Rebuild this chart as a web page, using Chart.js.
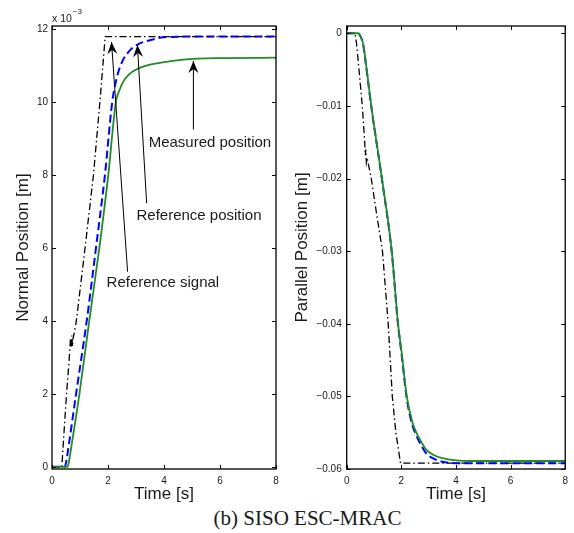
<!DOCTYPE html>
<html>
<head>
<meta charset="utf-8">
<script src="https://cdn.jsdelivr.net/npm/chart.js@4.4.1/dist/chart.umd.min.js"></script>
<style>
  body { margin: 0; background: #fff; }
  #wrap { position: relative; width: 574px; height: 533px; }
  canvas { position: absolute; top: 0; }
  #left { left: 0; }
  #right { left: 290px; }
  #caption {
    position: absolute; left: 41px; width: 533px; top: 508px;
    text-align: center; font: 21px "Liberation Serif", "Times New Roman", serif;
    line-height: 21px; color: #1a1a1a; white-space: pre;
  }
</style>
</head>
<body>
<div id="wrap">
  <canvas id="left" width="290" height="505"></canvas>
  <canvas id="right" width="284" height="505"></canvas>
  <div id="caption">(b) SISO ESC-MRAC</div>
</div>
<script>
// time ticks shared by both panels
const timeTicks = [0, 2, 4, 6, 8];

// left panel: normal position (x 10^-3 m)
const normalTicks = [0, 2, 4, 6, 8, 10, 12];
const tRefSignalN = [0, 0.35, 0.45, 0.52, 0.6, 0.66, 0.69, 0.71, 0.73, 0.75, 0.8, 0.87, 1.18, 1.48, 1.71, 1.9, 8];
const refSignalN  = [0, 0, 1.2, 2.0, 2.8, 3.5, 3.3, 3.6, 3.3, 3.5, 3.7, 4.0, 6.0, 8.0, 10.0, 11.8, 11.8];
const tRefPosN = [0, 0.46, 0.52, 0.6, 0.86, 1.24, 1.57, 1.89, 2.15, 2.31, 2.5, 2.79, 3.1, 3.5, 3.98, 5, 8];
const refPosN  = [0, 0, 0.2, 0.6, 2.0, 4.0, 6.0, 8.0, 10.0, 10.66, 11.1, 11.43, 11.6, 11.7, 11.78, 11.8, 11.8];
const tMeasN = [0, 0.55, 0.6, 0.68, 0.98, 1.33, 1.69, 2.01, 2.28, 2.42, 2.55, 2.75, 2.9, 3.2, 3.5, 3.86, 4.69, 6, 8];
const measN  = [0, 0, 0.12, 0.5, 2.0, 4.0, 6.0, 8.0, 10.0, 10.35, 10.57, 10.76, 10.85, 10.96, 11.03, 11.08, 11.17, 11.21, 11.22];

// right panel: parallel position (m)
const parallelTicks = [0, -0.01, -0.02, -0.03, -0.04, -0.05, -0.06];
const parallelLabels = ['0', '\u22120.01', '\u22120.02', '\u22120.03', '\u22120.04', '\u22120.05', '\u22120.06'];
const tRefSignalP = [0, 0.3, 0.36, 0.45, 0.57, 0.66, 0.68, 0.7, 0.72, 0.75, 0.9, 1.1, 1.31, 1.52, 1.67, 1.8, 1.97, 8];
const refSignalP  = [0, 0, -0.0014, -0.005, -0.01, -0.015, -0.0168, -0.016, -0.0178, -0.0172, -0.02, -0.025, -0.03, -0.04, -0.05, -0.055, -0.0592, -0.0592];
const tPosP = [0, 0.42, 0.5, 0.6, 0.7, 0.9, 1.29, 1.65, 1.88, 2.0, 2.2, 2.4, 2.55, 2.75, 2.9, 3.2, 3.5, 4.0, 4.5, 8];
const refPosP = [0, 0, -0.0004, -0.0015, -0.0042, -0.0101, -0.0201, -0.0302, -0.0402, -0.0439, -0.0503, -0.0539, -0.0554, -0.0569, -0.0578, -0.0586, -0.059, -0.0592, -0.0592, -0.0592];
const measP   = [0, 0, -0.0004, -0.0014, -0.004, -0.01, -0.02, -0.03, -0.04, -0.0436, -0.05, -0.0535, -0.055, -0.0564, -0.0573, -0.0581, -0.0585, -0.0588, -0.0589, -0.0589];

// arrow annotations on the left panel (data coordinates)
const noteLabels = ['Reference signal', 'Reference position', 'Measured position'];
const noteTips   = [[2.125, 11.65], [3.05, 11.57], [5.05, 11.13]];
const noteTails  = [[2.70, 5.35], [3.38, 7.23], [5.05, 9.25]];
const noteTexts  = [[3.96, 5.05], [5.25, 6.88], [5.64, 8.88]];

const FONT = '"Liberation Sans", Arial, Helvetica, sans-serif';
const TXT = '#1a1a1a';

const zip = (xs, ys) => xs.map((x, i) => ({x: x, y: ys[i]}));

// MATLAB-like box with inward ticks on all four sides
const boxPlugin = {
    id: 'matlabBox',
    afterDatasetsDraw(chart) {
        const {ctx, chartArea: a, scales: {x, y}} = chart;
        ctx.save();
        ctx.strokeStyle = '#000';
        ctx.lineWidth = 1;
        ctx.beginPath();
        for (const t of x.ticks) {
            const px = Math.round(x.getPixelForValue(t.value)) + 0.5;
            ctx.moveTo(px, a.bottom); ctx.lineTo(px, a.bottom - 4);
            ctx.moveTo(px, a.top); ctx.lineTo(px, a.top + 4);
        }
        for (const t of y.ticks) {
            const py = Math.round(y.getPixelForValue(t.value)) + 0.5;
            ctx.moveTo(a.left, py); ctx.lineTo(a.left + 4, py);
            ctx.moveTo(a.right, py); ctx.lineTo(a.right - 4, py);
        }
        ctx.stroke();
        ctx.lineWidth = 1.3;
        ctx.strokeRect(a.left, a.top, a.right - a.left, a.bottom - a.top);
        ctx.restore();
    }
};

// exponent marker and arrows with labels for the left panel
const notesPlugin = {
    id: 'notes',
    afterDraw(chart) {
        const {ctx, chartArea: a, scales: {x, y}} = chart;
        ctx.save();
        ctx.fillStyle = TXT;
        ctx.textBaseline = 'alphabetic';
        ctx.font = '10.5px ' + FONT;
        ctx.fillText('x 10', a.left, a.top - 4);
        const w = ctx.measureText('x 10').width;
        ctx.font = '8px ' + FONT;
        ctx.fillText('\u22123', a.left + w + 1, a.top - 12);

        noteLabels.forEach((label, i) => {
            const tx = x.getPixelForValue(noteTips[i][0]);
            const ty = y.getPixelForValue(noteTips[i][1]);
            const sx = x.getPixelForValue(noteTails[i][0]);
            const sy = y.getPixelForValue(noteTails[i][1]);
            ctx.strokeStyle = '#000';
            ctx.lineWidth = 1;
            ctx.beginPath();
            ctx.moveTo(sx, sy);
            ctx.lineTo(tx, ty);
            ctx.stroke();
            // arrow head
            const ang = Math.atan2(ty - sy, tx - sx);
            const len = 12, half = 5;
            const bx = tx - len * Math.cos(ang), by = ty - len * Math.sin(ang);
            const nx = tx - 8 * Math.cos(ang), ny = ty - 8 * Math.sin(ang);
            ctx.fillStyle = '#000';
            ctx.beginPath();
            ctx.moveTo(tx, ty);
            ctx.lineTo(bx + half * Math.sin(ang), by - half * Math.cos(ang));
            ctx.lineTo(nx, ny);
            ctx.lineTo(bx - half * Math.sin(ang), by + half * Math.cos(ang));
            ctx.closePath();
            ctx.fill();
            // label
            ctx.fillStyle = TXT;
            ctx.font = '15px ' + FONT;
            ctx.textAlign = 'center';
            ctx.textBaseline = 'middle';
            ctx.fillText(label, x.getPixelForValue(noteTexts[i][0]), y.getPixelForValue(noteTexts[i][1]));
        });
        ctx.restore();
    }
};

function seriesSets(black, blue, green) {
    return [
        {data: green, borderColor: '#228B22', borderWidth: 1.8, order: 0, cubicInterpolationMode: 'monotone'},
        {data: blue, borderColor: '#0000FF', borderWidth: 2, borderDash: [8, 4], order: 1, cubicInterpolationMode: 'monotone'},
        {data: black, borderColor: '#000000', borderWidth: 1.3, borderDash: [7, 3, 1.5, 3], order: 2, tension: 0}
    ];
}

function makeOptions(o) {
    return {
        responsive: false,
        animation: false,
        parsing: false,
        elements: {point: {radius: 0}},
        layout: {padding: {left: 0, right: o.padRight, top: 26, bottom: 0}},
        plugins: {legend: {display: false}, tooltip: {enabled: false}},
        scales: {
            x: {
                type: 'linear', min: 0, max: 8,
                afterBuildTicks: s => { s.ticks = timeTicks.map(v => ({value: v})); },
                afterFit: s => { s.height = 36; },
                grid: {display: false, drawTicks: false}, border: {display: false},
                ticks: {font: {size: 10, family: FONT}, color: TXT, padding: 6, maxRotation: 0},
                title: {display: true, text: 'Time [s]', color: TXT, font: {size: 17, family: FONT}, padding: {top: 0, bottom: 0}}
            },
            y: {
                type: 'linear', min: o.yMin, max: o.yMax,
                afterBuildTicks: s => { s.ticks = o.yTicks.map(v => ({value: v})); },
                afterFit: s => { s.width = o.yWidth; },
                grid: {display: false, drawTicks: false}, border: {display: false},
                ticks: {font: {size: 10, family: FONT}, color: TXT, padding: o.tickPad, callback: o.tickLabel},
                title: {display: true, text: o.yTitle, color: TXT, font: {size: 17, family: FONT}, padding: {top: o.titlePad, bottom: 0}}
            }
        }
    };
}

new Chart(document.getElementById('left'), {
    type: 'line',
    data: {datasets: seriesSets(zip(tRefSignalN, refSignalN), zip(tRefPosN, refPosN), zip(tMeasN, measN))},
    options: makeOptions({
        padRight: 14, yWidth: 52, yMin: -0.06, yMax: 12.09, yTicks: normalTicks,
        tickPad: 4, titlePad: 13, yTitle: 'Normal Position [m]',
        tickLabel: v => String(v)
    }),
    plugins: [boxPlugin, notesPlugin]
});

new Chart(document.getElementById('right'), {
    type: 'line',
    data: {datasets: seriesSets(zip(tRefSignalP, refSignalP), zip(tPosP, refPosP), zip(tPosP, measP))},
    options: makeOptions({
        padRight: 4, yWidth: 56.7, yMin: -0.06, yMax: 0.001, yTicks: parallelTicks,
        tickPad: 5, titlePad: 2, yTitle: 'Parallel Position [m]',
        tickLabel: (v, i) => parallelLabels[i]
    }),
    plugins: [boxPlugin]
});
</script>
</body>
</html>
